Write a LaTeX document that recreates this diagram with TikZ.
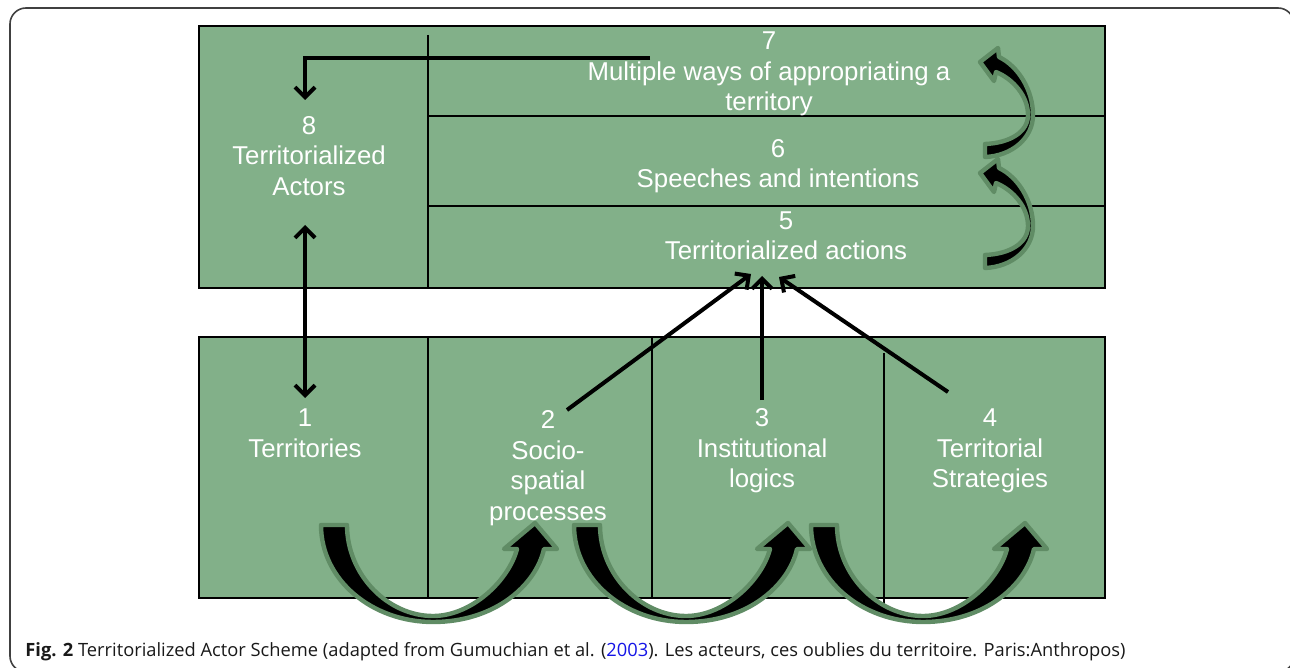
\documentclass[tikz,border=0pt]{standalone}
\usepackage{fontspec}
\setmainfont{Liberation Sans}
\newfontfamily\capfont{Open Sans}
\usetikzlibrary{arrows.meta}

\definecolor{boxgreen}{RGB}{130,176,137}
\definecolor{rimgreen}{RGB}{96,140,101}
\definecolor{linkblue}{RGB}{20,20,230}

\begin{document}
\begin{tikzpicture}[x=0.5pt,y=-0.5pt]
        \tikzset{panel/.style = {draw, line width=1.4pt, fill=boxgreen}}
        \tikzset{rule/.style = {line width=0.9pt}}
        \tikzset{lbl/.style = {text=white, align=center, inner sep=0pt, font=\fontsize{12.9}{15.25}\selectfont}}
        \tikzset{edge/.style = {line width=2pt, ->, > = {Straight Barb[length=5pt,width=10pt]}}}
        \tikzset{bigarrow/.style = {fill=black, draw=rimgreen, line width=2.2pt, line join=round}}
        \useasboundingbox (0,0) rectangle (1290,668);

        % frame
        \draw[black!75, line width=0.8pt, rounded corners=8pt] (10,8) rectangle (1294,672);

        % panels
        \draw[panel] (199,26) rectangle (1105,288);
        \draw[panel] (199,337) rectangle (1105,598);
        \draw[rule] (428,35) -- (428,288);
        \draw[rule] (428,116) -- (1105,116);
        \draw[rule] (428,206) -- (1105,206);
        \draw[rule] (428,337) -- (428,598);
        \draw[rule] (652,337) -- (652,598);
        \draw[rule] (884,353) -- (884,607);

        % labels
        \node[lbl] (t7) at (769,74) {7\\Multiple ways of appropriating a\\territory};
        \node[lbl] (t6) at (778,166) {6\\Speeches and intentions};
        \node[lbl] (t5) at (786,236) {5\\Territorialized actions};
        \node[lbl] (t8) at (309,156) {8\\Territorialized\\Actors};
        \node[lbl] (t1) at (305,433) {1\\Territories};
        \node[lbl] (t2) at (548,468) {2\\Socio-\\spatial\\processes};
        \node[lbl] (t3) at (762,451) {3\\Institutional\\logics};
        \node[lbl] (t4) at (990,451) {4\\Territorial\\Strategies};

        % arrow ends
        \coordinate (out7) at (650,58);
        \coordinate (in8) at (305,100);
        \coordinate (out8) at (305,225);
        \coordinate (in1) at (305,398);
        \coordinate (out2) at (567,410);
        \coordinate (in5a) at (751,274);
        \coordinate (out3) at (762,400);
        \coordinate (in5b) at (762,276);
        \coordinate (out4) at (948,392);
        \coordinate (in5c) at (779,277);

        % edges
        \draw[edge] (out7) -| (in8);
        \draw[edge, <->] (out8) -- (in1);
        \draw[edge] (out2) -- (in5a);
        \draw[edge] (out3) -- (in5b);
        \draw[edge] (out4) -- (in5c);

        % bent arrows under the lower panel
        \foreach \dx in {0,253,490} {
          \draw[bigarrow, shift={(\dx,0)}]
            (321,525) .. controls (321,580) and (372,622) .. (433,622)
            .. controls (495,622) and (536,585) .. (544,549)
            -- (557,549) -- (535,523) -- (504,549) -- (517,549)
            .. controls (509,580) and (472,616) .. (433,616)
            .. controls (388,616) and (347,575) .. (347,525) -- cycle;
        }

        % bent arrows at the right of the upper panel
        \foreach \dy in {0,111} {
          \draw[bigarrow, shift={(0,\dy)}]
            (985,157) .. controls (1012,156) and (1033,138) .. (1033,115)
            .. controls (1033,90) and (1018,66) .. (999,57)
            -- (998,48) -- (980,62) -- (994,81) -- (996,72)
            .. controls (1013,79) and (1028,96) .. (1028,115)
            .. controls (1028,132) and (1010,143) .. (985,144) -- cycle;
        }

        % caption
        \node[anchor=base west, inner sep=0pt, text=black!90, font=\capfont\fontsize{9.15}{11}\selectfont] (cap) at (25,656)
          {\textbf{Fig. 2} Territorialized Actor Scheme (adapted from Gumuchian et al. (\textcolor{linkblue}{2003}). Les acteurs, ces oublies du territoire. Paris:Anthropos)};
\end{tikzpicture}
\end{document}
